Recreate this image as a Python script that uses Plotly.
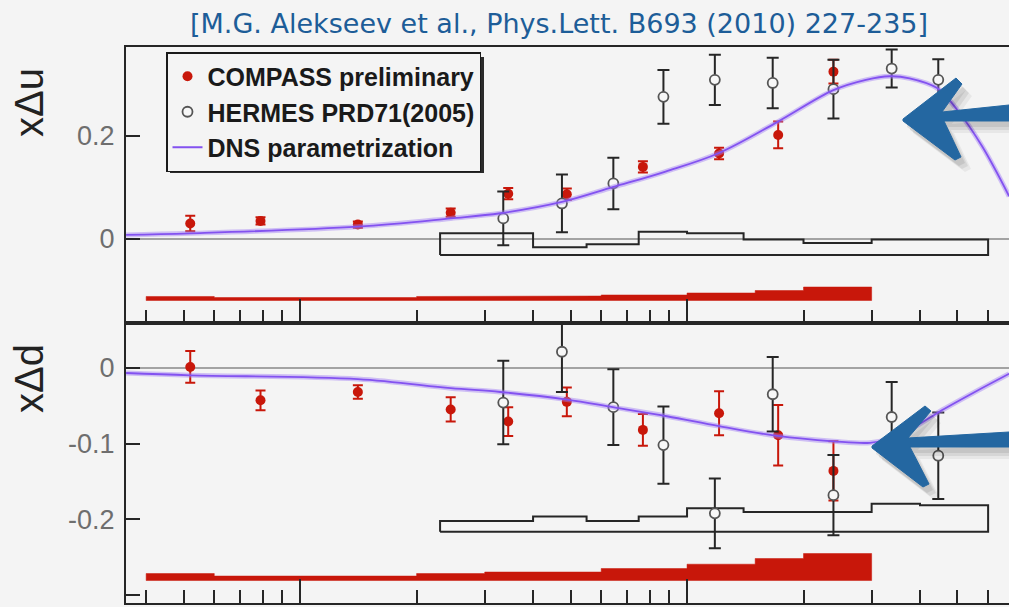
import math
import plotly.graph_objects as go

# ---------------- data ----------------
# COMPASS preliminary: x, x*Delta u, x*Delta d with statistical errors
compass_x = [0.0052, 0.0079, 0.0141, 0.0245, 0.0345, 0.0489, 0.0769, 0.121, 0.172, 0.239]
compass_du = [0.030, 0.035, 0.028, 0.051, 0.088, 0.087, 0.140, 0.166, 0.202, 0.325]
compass_du_err = [0.015, 0.007, 0.006, 0.008, 0.011, 0.011, 0.011, 0.011, 0.026, 0.023]
compass_dd = [0.001, -0.043, -0.032, -0.055, -0.071, -0.045, -0.082, -0.060, -0.089, -0.136]
compass_dd_err = [0.021, 0.013, 0.009, 0.016, 0.019, 0.019, 0.021, 0.029, 0.040, 0.039]

# COMPASS systematic bands (bin edges, band heights, band baselines)
compass_edges = [0.004, 0.006, 0.01, 0.02, 0.03, 0.04, 0.06, 0.1, 0.15, 0.2, 0.3]
compass_du_syst = [0.0078, 0.0058, 0.0058, 0.0078, 0.0078, 0.0087, 0.0107, 0.0146, 0.0194, 0.0262]
compass_dd_syst = [0.0092, 0.0059, 0.0059, 0.0092, 0.0112, 0.0112, 0.0158, 0.0215, 0.0290, 0.0356]
compass_du_base = -0.1194
compass_dd_base = -0.2805

# HERMES PRD71(2005)
hermes_x = [0.0335, 0.0475, 0.0645, 0.0869, 0.118, 0.1665, 0.239, 0.338, 0.446]
hermes_du = [0.040, 0.069, 0.108, 0.276, 0.309, 0.303, 0.291, 0.331, 0.309]
hermes_du_err = [0.052, 0.056, 0.050, 0.052, 0.049, 0.049, 0.057, 0.037, 0.040]
hermes_dd = [-0.046, 0.021, -0.052, -0.102, -0.192, -0.035, -0.168, -0.065, -0.116]
hermes_dd_err = [0.055, 0.053, 0.050, 0.051, 0.046, 0.049, 0.053, 0.046, 0.057]

# HERMES systematic bands
hermes_edges = [0.023, 0.04, 0.055, 0.075, 0.1, 0.14, 0.2, 0.3, 0.4, 0.6]
hermes_du_syst = [0.042, 0.015, 0.021, 0.045, 0.042, 0.030, 0.023, 0.030, 0.030]
hermes_dd_syst = [0.014, 0.020, 0.014, 0.020, 0.031, 0.026, 0.026, 0.037, 0.035]
hermes_du_base = -0.031
hermes_dd_base = -0.2162

# DNS parametrization curves
dns_u_x = [0.00355, 0.0052, 0.0141, 0.0245, 0.0329, 0.0475, 0.0645, 0.088, 0.121, 0.171,
           0.239, 0.29, 0.334, 0.376, 0.443, 0.50, 0.58, 0.68]
dns_du = [0.008, 0.011, 0.024, 0.040, 0.050, 0.072, 0.101, 0.131, 0.167, 0.227,
          0.289, 0.309, 0.316, 0.312, 0.293, 0.250, 0.179, 0.083]
dns_d_x = [0.00355, 0.0052, 0.0141, 0.0245, 0.0329, 0.0489, 0.0643, 0.0887, 0.121, 0.171,
           0.239, 0.297, 0.33, 0.39, 0.449, 0.55, 0.68]
dns_dd = [-0.007, -0.010, -0.015, -0.027, -0.032, -0.042, -0.052, -0.064, -0.077, -0.090,
          -0.097, -0.099, -0.094, -0.077, -0.058, -0.033, -0.008]

title_text = "[M.G. Alekseev et al., Phys.Lett. B693 (2010) 227-235]"
x_major = [0.01, 0.1]
x_minor = [0.004, 0.005, 0.006, 0.007, 0.008, 0.009,
           0.02, 0.03, 0.04, 0.05, 0.06, 0.07, 0.08, 0.09,
           0.2, 0.3, 0.4, 0.5, 0.6]

# ---------------- styling ----------------
W, H = 1009, 607
ML, MR, MT, MB = 126, 0, 47, 4
PW, PH = W - ML - MR, H - MT - MB
SPLIT = (H - MB - 323) / PH          # border between the two panels

BG = "#f4f4f4"
RED = "#c8170a"
DARK = "#262626"
DNS = "#8352f0"
ARROW = "#2467a1"
TICKFONT = dict(family="Liberation Sans, Arial", size=27, color="#6e6e6e")


def step_polygon(edges, heights, base):
    """Closed outline of a histogram band sitting on a baseline."""
    xs, ys = [edges[0]], [base]
    for i, h in enumerate(heights):
        xs += [edges[i], edges[i + 1]]
        ys += [base + h, base + h]
    xs += [edges[-1], edges[0]]
    ys += [base, base]
    return xs, ys


def paper(xp, yp):
    return (xp - ML) / PW, (H - MB - yp) / PH


def path(points, dx=0, dy=0):
    pts = [paper(x + dx, y + dy) for x, y in points]
    return "M " + " L ".join(f"{a:.5f},{b:.5f}" for a, b in pts) + " Z"


fig = go.Figure()

panels = [
    dict(xa="x", ya="y", c=compass_du, ce=compass_du_err, cs=compass_du_syst, cb=compass_du_base,
         h=hermes_du, he=hermes_du_err, hs=hermes_du_syst, hb=hermes_du_base,
         dx=dns_u_x, dy=dns_du, legend=True),
    dict(xa="x2", ya="y2", c=compass_dd, ce=compass_dd_err, cs=compass_dd_syst, cb=compass_dd_base,
         h=hermes_dd, he=hermes_dd_err, hs=hermes_dd_syst, hb=hermes_dd_base,
         dx=dns_d_x, dy=dns_dd, legend=False),
]

for p in panels:
    # systematic bands
    bx, by = step_polygon(compass_edges, p["cs"], p["cb"])
    fig.add_trace(go.Scatter(x=bx, y=by, xaxis=p["xa"], yaxis=p["ya"], mode="lines",
                             fill="toself", fillcolor=RED, line=dict(color=RED, width=0.5),
                             showlegend=False, hoverinfo="skip"))
    hx, hy = step_polygon(hermes_edges, p["hs"], p["hb"])
    fig.add_trace(go.Scatter(x=hx, y=hy, xaxis=p["xa"], yaxis=p["ya"], mode="lines",
                             line=dict(color=DARK, width=2), showlegend=False, hoverinfo="skip"))
    # COMPASS points
    fig.add_trace(go.Scatter(
        x=compass_x, y=p["c"], xaxis=p["xa"], yaxis=p["ya"], mode="markers",
        name="<b>COMPASS preliminary</b>", showlegend=p["legend"], legendrank=1,
        marker=dict(color=RED, size=10),
        error_y=dict(type="data", array=p["ce"], color=RED, thickness=2, width=5)))
    # HERMES points
    fig.add_trace(go.Scatter(
        x=hermes_x, y=p["h"], xaxis=p["xa"], yaxis=p["ya"], mode="markers",
        name="<b>HERMES PRD71(2005)</b>", showlegend=p["legend"], legendrank=2,
        marker=dict(color="#f7f7f7", size=10, line=dict(color="#555555", width=1.8)),
        error_y=dict(type="data", array=p["he"], color=DARK, thickness=2, width=6)))
    # DNS curve: soft halo plus core line
    fig.add_trace(go.Scatter(x=p["dx"], y=p["dy"], xaxis=p["xa"], yaxis=p["ya"], mode="lines",
                             line=dict(color="rgba(160,125,245,0.45)", width=5, shape="spline"),
                             showlegend=False, hoverinfo="skip"))
    fig.add_trace(go.Scatter(x=p["dx"], y=p["dy"], xaxis=p["xa"], yaxis=p["ya"], mode="lines",
                             name="<b>DNS parametrization</b>", showlegend=p["legend"], legendrank=3,
                             line=dict(color=DNS, width=1.8, shape="spline")))

xrange = [math.log10(0.003548), math.log10(0.6794)]
xaxis_common = dict(
    type="log", range=xrange, showgrid=False, zeroline=False,
    showline=True, linecolor=DARK, linewidth=2, mirror=True,
    tickmode="array", tickvals=x_major, ticks="inside", ticklen=24, tickwidth=2,
    tickcolor=DARK, showticklabels=False,
    minor=dict(tickmode="array", tickvals=x_minor, ticks="inside", ticklen=13,
               tickwidth=2, tickcolor=DARK, showgrid=False),
)
yaxis_common = dict(
    showgrid=False, showline=True, linecolor=DARK, linewidth=2, mirror=False,
    zeroline=True, zerolinecolor="#a3a3a3", zerolinewidth=2,
    ticks="inside", ticklen=14, tickwidth=2, tickcolor=DARK,
    tickfont=TICKFONT, tickmode="array", ticklabelstandoff=4,
)

fig.update_layout(
    width=W, height=H,
    margin=dict(l=ML, r=MR, t=MT, b=MB),
    paper_bgcolor=BG, plot_bgcolor=BG,
    showlegend=True,
    xaxis=dict(domain=[0, 1], anchor="y", **xaxis_common),
    xaxis2=dict(domain=[0, 1], anchor="y2", matches="x", **xaxis_common),
    yaxis=dict(domain=[SPLIT, 1], anchor="x", range=[-(323 - 239) / 515, (239 - 47) / 515],
               tickvals=[0, 0.2], ticktext=["0", "0.2"], **yaxis_common),
    yaxis2=dict(domain=[0, SPLIT], anchor="x2",
                range=[-(H - MB - 367.7) / 758.7, (367.7 - 323) / 758.7],
                tickvals=[0, -0.1, -0.2, -0.3], ticktext=["0", "-0.1", "-0.2", "-0.3"],
                **yaxis_common),
    legend=dict(
        x=paper(166, 0)[0], y=paper(0, 52)[1], xanchor="left", yanchor="top",
        bgcolor=BG, bordercolor="#1a1a1a", borderwidth=1.5,
        font=dict(family="Liberation Sans, Arial", size=25, color="#1a1a1a"),
        traceorder="normal", itemwidth=30,
    ),
)

# axis titles
for label, yp in [("xΔu", 103), ("xΔd", 379)]:
    fig.add_annotation(text=label, xref="paper", yref="paper",
                       x=paper(29, 0)[0], y=paper(0, yp)[1], textangle=-90,
                       showarrow=False, xanchor="center", yanchor="middle",
                       font=dict(family="Liberation Sans, Arial", size=40, color="#222222"))

# citation line
fig.add_annotation(text=title_text, xref="paper", yref="paper",
                   x=paper(559, 0)[0], y=paper(0, 23)[1], showarrow=False,
                   xanchor="center", yanchor="middle",
                   font=dict(family="DejaVu Sans", size=27, color="#1d5d98"))

# legend drop shadow (peeks out at the right and bottom of the legend box)
lx0, ly0 = paper(170, 57)
lx1, ly1 = paper(484, 173)
fig.add_shape(type="rect", xref="paper", yref="paper", x0=lx0, x1=lx1, y0=ly1, y1=ly0,
              fillcolor="#2a2a2a", line=dict(width=0), layer="above")

# hand-drawn pointer arrows
arrow_top = [(903, 119), (956, 78), (962, 84), (942, 112), (1009, 105), (1009, 121),
             (944, 121), (961, 157), (955, 160), (903, 121)]
arrow_bot = [(872, 446), (925, 406), (931, 411), (908, 438), (1009, 432), (1009, 447),
             (910, 447), (929, 484), (923, 487), (872, 448)]
for pts in (arrow_top, arrow_bot):
    for (ox, oy, a) in [(10, 12, 0.05), (7, 9, 0.07), (4, 6, 0.08)]:
        fig.add_shape(type="path", xref="paper", yref="paper", path=path(pts, ox, oy),
                      fillcolor=f"rgba(0,0,0,{a})", line=dict(width=0), layer="above")
    fig.add_shape(type="path", xref="paper", yref="paper", path=path(pts),
                  fillcolor=ARROW, line=dict(color=ARROW, width=1), layer="above")

fig.write_html("out.html")
